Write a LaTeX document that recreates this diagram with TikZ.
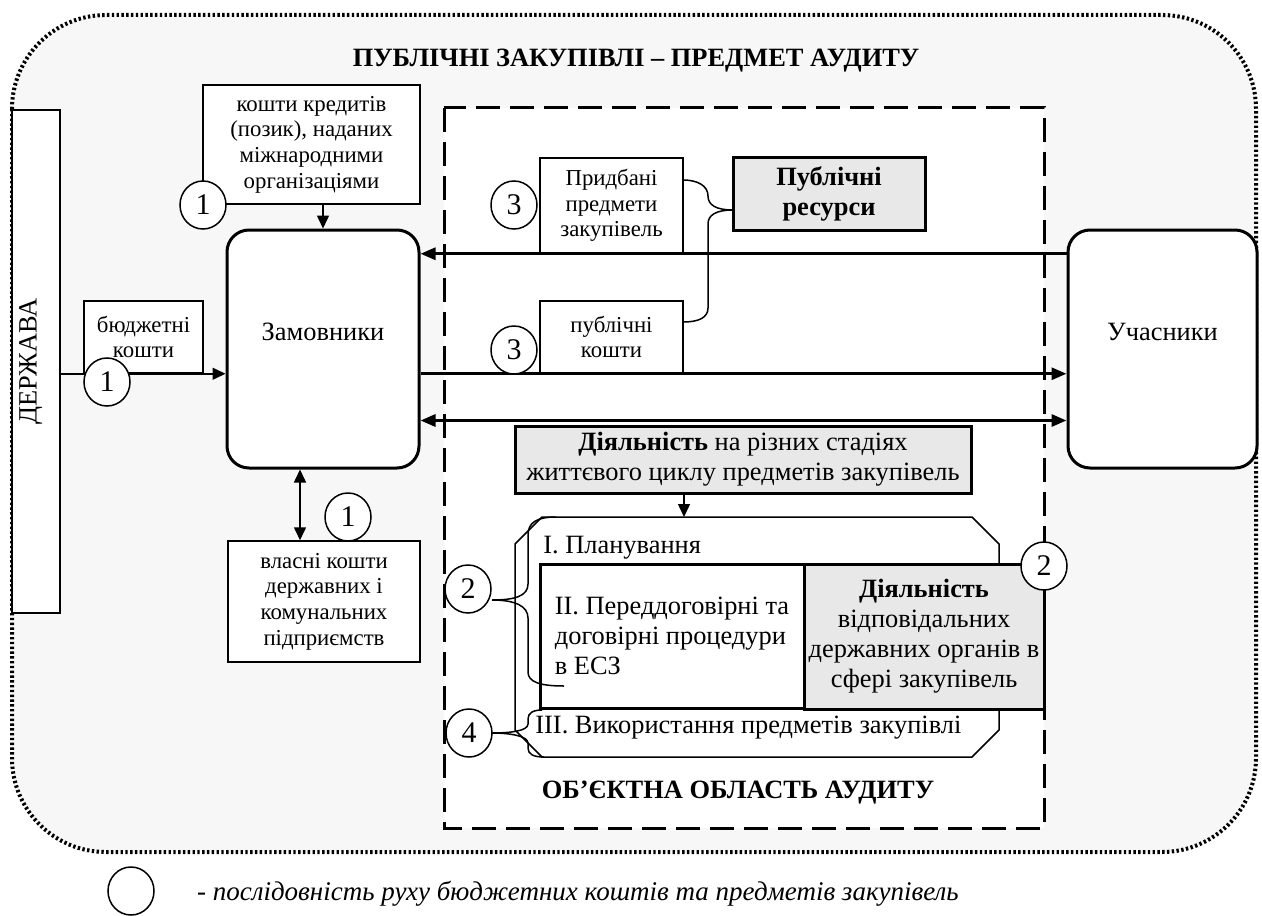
\documentclass[tikz,border=0pt]{standalone}
\usepackage{fontspec}
\setmainfont{Liberation Serif}
\usetikzlibrary{arrows.meta,shapes.geometric}
\definecolor{bgpale}{RGB}{247,247,247}
\definecolor{boxgray}{RGB}{232,232,232}
\newcommand{\fsm}{\fontsize{11.4}{12.8}\selectfont}
\newcommand{\fbig}{\fontsize{13.2}{15}\selectfont}
\tikzstyle{cashbox}=[draw,line width=0.75pt,fill=white,align=center,inner sep=1pt,font=\fsm]
\tikzstyle{partybox}=[draw,line width=1.5pt,fill=white,rounded corners=11pt,font=\fbig,minimum width=96pt,minimum height=119pt]
\tikzstyle{greybox}=[draw,line width=1.5pt,fill=boxgray,align=center,inner sep=1pt,font=\fbig]
\tikzstyle{seqmark}=[draw,line width=0.75pt,fill=white,ellipse,inner sep=0pt,minimum width=23pt,minimum height=24pt,font=\fontsize{15}{15}\selectfont]
\tikzstyle{flowline}=[line width=1.5pt,-{Triangle[length=7.5pt,width=6pt]}]
\tikzstyle{flowboth}=[line width=1.5pt,{Triangle[length=7.5pt,width=6pt]}-{Triangle[length=7.5pt,width=6pt]}]
\tikzstyle{thinflow}=[line width=0.75pt,-{Triangle[length=6.5pt,width=6pt]}]
\tikzstyle{thinboth}=[line width=0.75pt,{Triangle[length=6.5pt,width=6pt]}-{Triangle[length=6.5pt,width=6pt]}]
\tikzstyle{brace}=[line width=0.75pt]

\begin{document}
\begin{tikzpicture}[x=0.5pt,y=-0.5pt]
\useasboundingbox (0,0) rectangle (1262,915);
\draw[fill=bgpale,line width=2pt,dash pattern=on 1.2pt off 1.2pt,rounded corners=47pt] (12,15) rectangle (1256,852);
\draw[fill=white,line width=1.5pt,dash pattern=on 12pt off 5pt] (444,108) rectangle (1044,828);
\node[font=\fbig\bfseries] (title) at (636,61) {ПУБЛІЧНІ ЗАКУПІВЛІ – ПРЕДМЕТ АУДИТУ};
\node[font=\fbig\bfseries] (scope) at (738,793) {ОБ’ЄКТНА ОБЛАСТЬ АУДИТУ};

\node[draw,line width=0.75pt,fill=white,rotate=90,minimum width=251.5pt,minimum height=24pt,inner sep=0pt,font=\fbig] (derzhava) at (36,361.5) {\raisebox{8pt}{ДЕРЖАВА}};
\node[partybox] (zamovnyky) at (323,349) {\raisebox{17pt}{Замовники}};
\node[partybox,minimum width=94.5pt] (uchasnyky) at (1162.5,349) {\raisebox{17pt}{Учасники}};

\node[cashbox,minimum width=59.5pt,minimum height=36pt] (budzh) at (143.5,337) {бюджетні\\кошти};
\node[cashbox,minimum width=108.5pt,minimum height=59.5pt] (kredyty) at (311.5,144.5) {кошти кредитів\\(позик), наданих\\міжнародними\\організаціями};
\node[cashbox,minimum width=96pt,minimum height=60.5pt] (vlasni) at (324,601.5) {власні кошти\\державних і\\комунальних\\підприємств};
\node[cashbox,minimum width=71.5pt,minimum height=47.5pt] (prydbani) at (611.5,205.5) {Придбані\\предмети\\закупівель};
\node[cashbox,minimum width=71.5pt,minimum height=36pt] (kosty) at (611.5,337) {публічні\\кошти};
\node[greybox,font=\fbig\bfseries,minimum width=96pt,minimum height=36.5pt] (resursy) at (829,193.5) {Публічні\\ресурси};
\node[greybox,minimum width=228pt,minimum height=33.5pt] (dial) at (743,459.5) {\textbf{Діяльність} на різних стадіях\\життєвого циклу предметів закупівель};

\draw[line width=0.75pt,fill=white] (542,517) -- (972,517) -- (999,544) -- (999,730) -- (972,757) -- (542,757) -- (515,730) -- (515,544) -- cycle;
\coordinate (stagetop) at (684,517);
\node[anchor=west,font=\fbig,inner sep=0pt] (plan) at (543,548) {I. Планування};
\node[draw,line width=1.5pt,fill=white,minimum width=132pt,minimum height=72pt,align=left,font=\fbig,inner sep=0pt] (tender) at (672,636) {II. Переддоговірні та\\договірні процедури\\в ЕСЗ};
\node[greybox,minimum width=120pt,minimum height=72.5pt,inner sep=0pt] (organs) at (924,636.5) {\textbf{Діяльність}\\відповідальних\\державних органів в\\сфері закупівель};
\node[anchor=west,font=\fbig,inner sep=0pt] (usage) at (535,728) {III. Використання предметів закупівлі};

\coordinate (vtop) at ([xshift=-12pt]vlasni.north);
\draw[flowline] (prydbani.south -| uchasnyky.west) -- (prydbani.south -| zamovnyky.east);
\draw[flowline] (kosty.south -| zamovnyky.east) -- (kosty.south -| uchasnyky.west);
\draw[flowboth] ([yshift=2pt]dial.north -| zamovnyky.east) -- ([yshift=2pt]dial.north -| uchasnyky.west);
\draw[thinflow] (derzhava.south |- budzh.south) -- (budzh.south -| zamovnyky.west);
\draw[thinflow] (zamovnyky.north |- kredyty.south) -- (zamovnyky.north);
\draw[thinboth] (vtop) -- (vtop |- zamovnyky.south);
\draw[thinflow] (stagetop |- dial.south) -- (stagetop);

\draw[brace] (683,180) .. controls (698,180) and (708,186) .. (708,196) .. controls (708,205) and (716,210) .. (733,210) .. controls (716,210) and (708,215) .. (708,224) -- (708,308) .. controls (708,318) and (698,322) .. (683,322);
\draw[brace] (492,600) .. controls (515,600) and (528,596) .. (528,584) -- (528,535) .. controls (528,523) and (536,517) .. (556,517);
\draw[brace] (492,600) .. controls (515,600) and (528,606) .. (528,618) -- (528,672) .. controls (528,682) and (540,686) .. (564,686);
\draw[brace] (492,733) .. controls (510,733) and (528,731) .. (528,724) -- (528,719) .. controls (528,713) and (533,710) .. (542,710);
\draw[brace] (492,733) .. controls (510,733) and (528,736) .. (528,743) -- (528,748) .. controls (528,754) and (533,757) .. (544,757);

\node[seqmark] (n1a) at (203,205) {1};
\node[seqmark] (n3a) at (514,205) {3};
\node[seqmark] (n1b) at (107,382) {1};
\node[seqmark] (n3b) at (514,350) {3};
\node[seqmark] (n1c) at (348,517) {1};
\node[seqmark] (n2a) at (468,589) {2};
\node[seqmark] (n2b) at (1044,566) {2};
\node[seqmark] (n4) at (469,733) {4};
\node[seqmark] (key) at (131,891) {};
\node[anchor=west,font=\fontsize{13.5}{15}\selectfont\itshape] (keytext) at (190,894) {- послідовність руху бюджетних коштів та предметів закупівель};
\end{tikzpicture}
\end{document}
